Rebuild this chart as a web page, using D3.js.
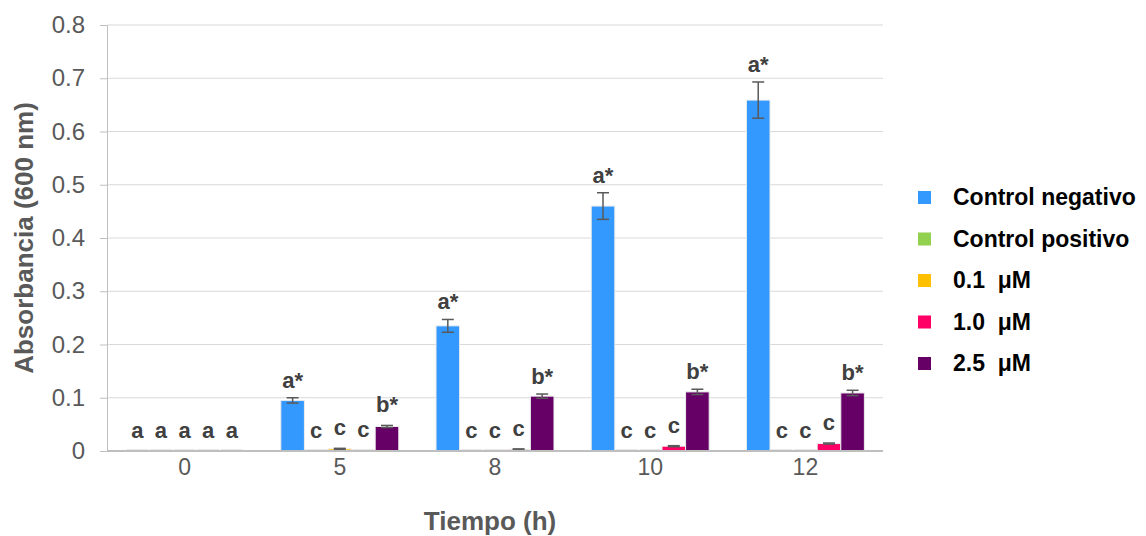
<!DOCTYPE html>
<html>
<head>
<meta charset="utf-8">
<script src="https://cdn.jsdelivr.net/npm/d3@7"></script>
<style>
  body { margin: 0; background: #fff; }
  svg { font-family: "Liberation Sans", Arial, sans-serif; }
</style>
</head>
<body>
<div id="chart"></div>
<script>
// tiempo (h)
const categories = ['0', '5', '8', '10', '12'];
const seriesNames = ['Control negativo', 'Control positivo', '0.1  μM', '1.0  μM', '2.5  μM'];
const seriesColors = ['#3399ff', '#92d050', '#ffc000', '#ff0066', '#660066'];

// absorbancia per series
const controlNegativo = [0, 0.095, 0.235, 0.460, 0.659];
const controlPositivo = [0, 0, 0, 0, 0];
const conc01 = [0, 0.004, 0, 0, 0];
const conc10 = [0, 0.001, 0.003, 0.009, 0.014];
const conc25 = [0, 0.046, 0.103, 0.111, 0.109];

// error (+/-)
const errNegativo = [0, 0.005, 0.012, 0.025, 0.034];
const errPositivo = [0, 0, 0, 0, 0];
const err01 = [0, 0.001, 0, 0, 0];
const err10 = [0, 0, 0.001, 0.001, 0.001];
const err25 = [0, 0.002, 0.004, 0.005, 0.005];

// letras de significancia
const lettersNegativo = ['a', 'a*', 'a*', 'a*', 'a*'];
const lettersPositivo = ['a', 'c', 'c', 'c', 'c'];
const letters01 = ['a', 'c', 'c', 'c', 'c'];
const letters10 = ['a', 'c', 'c', 'c', 'c'];
const letters25 = ['a', 'b*', 'b*', 'b*', 'b*'];

const yTicks = [0, 0.1, 0.2, 0.3, 0.4, 0.5, 0.6, 0.7, 0.8];

const values = [controlNegativo, controlPositivo, conc01, conc10, conc25];
const errors = [errNegativo, errPositivo, err01, err10, err25];
const letters = [lettersNegativo, lettersPositivo, letters01, letters10, letters25];

const rows = [];
categories.forEach((c, i) => {
    seriesNames.forEach((s, j) => {
        rows.push({ cat: c, series: s, idx: j, value: values[j][i], err: errors[j][i], label: letters[j][i] });
    });
});

const width = 1146, height = 536;
const margin = { left: 107, right: 263, top: 25, bottom: 85 };

const svg = d3.select('#chart').append('svg')
    .attr('width', width)
    .attr('height', height);

const x0 = d3.scaleBand().domain(categories)
    .range([margin.left, width - margin.right])
    .paddingInner(0.24).paddingOuter(0.12);
const x1 = d3.scaleBand().domain(seriesNames).range([0, x0.bandwidth()]);
const y = d3.scaleLinear().domain([0, 0.8]).range([height - margin.bottom, margin.top]);

// grid
svg.append('g')
    .selectAll('line')
    .data(yTicks.slice(1))
    .enter().append('line')
    .attr('x1', margin.left).attr('x2', width - margin.right)
    .attr('y1', d => y(d)).attr('y2', d => y(d))
    .attr('stroke', '#d9d9d9').attr('stroke-width', 1);

// y axis
const yAxis = svg.append('g')
    .attr('transform', `translate(${margin.left},0)`)
    .call(d3.axisLeft(y).tickValues(yTicks).tickFormat(d => d === 0 ? '0' : d3.format('.1f')(d)).tickSize(7).tickPadding(15));
yAxis.select('.domain').attr('stroke', '#bfbfbf');
yAxis.selectAll('.tick line').attr('stroke', '#bfbfbf');
yAxis.selectAll('.tick text').attr('fill', '#595959').style('font-size', '24px');

// bars
const groups = svg.append('g')
    .selectAll('g')
    .data(rows)
    .enter().append('g')
    .attr('transform', d => `translate(${x0(d.cat) + x1(d.series)},0)`);

// faint outline at the base (visible for empty bars)
groups.append('line')
    .attr('x1', 1).attr('x2', x1.bandwidth() - 1)
    .attr('y1', y(0) - 1).attr('y2', y(0) - 1)
    .attr('stroke', '#e8e8e8').attr('stroke-width', 2);

groups.append('rect')
    .attr('x', 0)
    .attr('y', d => y(d.value))
    .attr('width', x1.bandwidth())
    .attr('height', d => y(0) - y(d.value))
    .attr('fill', d => seriesColors[d.idx])
    .attr('stroke', '#ececec')
    .attr('stroke-width', 1);

// error bars
const eb = groups.filter(d => d.err > 0);
const cx = x1.bandwidth() / 2;
eb.append('line')
    .attr('x1', cx).attr('x2', cx)
    .attr('y1', d => y(d.value + d.err)).attr('y2', d => y(d.value - d.err))
    .attr('stroke', '#595959').attr('stroke-width', 1.5);
eb.selectAll('.cap')
    .data(d => [d.value + d.err, d.value - d.err])
    .enter().append('line')
    .attr('x1', cx - 6).attr('x2', cx + 6)
    .attr('y1', v => y(v)).attr('y2', v => y(v))
    .attr('stroke', '#595959').attr('stroke-width', 1.5);

// letters
groups.append('text')
    .attr('x', cx)
    .attr('y', d => y(d.value + d.err) - (d.err > 0.003 ? 10 : 13))
    .attr('text-anchor', 'middle')
    .attr('fill', '#404040')
    .style('font-size', '22px')
    .style('font-weight', 'bold')
    .text(d => d.label);

// x axis
const xAxis = svg.append('g')
    .attr('transform', `translate(0,${y(0)})`)
    .call(d3.axisBottom(x0).tickSize(0).tickPadding(8));
xAxis.select('.domain').attr('stroke', '#bfbfbf').attr('stroke-width', 2)
    .attr('d', `M${margin.left},0H${width - margin.right}`);
xAxis.selectAll('.tick text').attr('fill', '#595959').style('font-size', '23px');

// axis titles
svg.append('text')
    .attr('x', 490)
    .attr('y', 530)
    .attr('text-anchor', 'middle')
    .attr('fill', '#595959')
    .style('font-size', '26px')
    .style('font-weight', 'bold')
    .text('Tiempo (h)');

svg.append('text')
    .attr('transform', `translate(33,${(margin.top + y(0)) / 2}) rotate(-90)`)
    .attr('text-anchor', 'middle')
    .attr('fill', '#595959')
    .style('font-size', '26px')
    .style('font-weight', 'bold')
    .text('Absorbancia (600 nm)');

// legend
const legend = svg.append('g')
    .selectAll('g')
    .data(seriesNames)
    .enter().append('g')
    .attr('transform', (d, i) => `translate(918,${197 + i * 41.5})`);
legend.append('rect')
    .attr('x', 0).attr('y', -6)
    .attr('width', 13).attr('height', 13)
    .attr('fill', (d, i) => seriesColors[i]);
legend.append('text')
    .attr('x', 35).attr('y', 8)
    .attr('fill', '#000')
    .style('font-size', '23px')
    .style('font-weight', 'bold')
    .style('white-space', 'pre')
    .text(d => d);
</script>
</body>
</html>
